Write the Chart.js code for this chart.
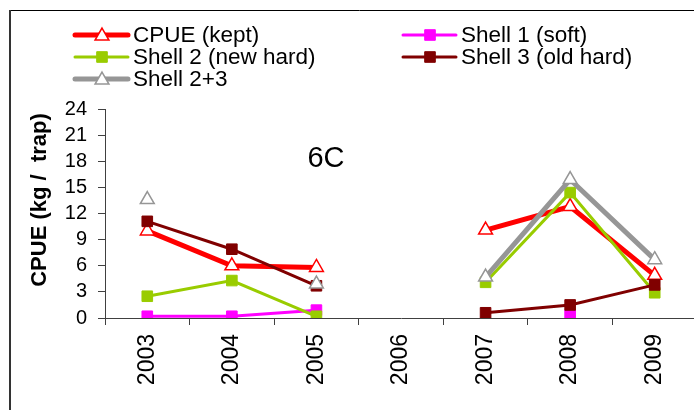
<!DOCTYPE html>
<html>
<head>
<meta charset="utf-8">
<script src="https://cdn.jsdelivr.net/npm/chart.js@4.4.1/dist/chart.umd.min.js"></script>
<style>
  html, body { margin: 0; padding: 0; background: #fff; overflow: hidden; }
  #wrap { width: 710px; height: 410px; }
</style>
</head>
<body>
<div id="wrap"><canvas id="c" width="710" height="410"></canvas></div>
<script>
const years = ['2003', '2004', '2005', '2006', '2007', '2008', '2009'];
const cpueKept   = [10.0, 6.0, 5.8, null, 10.1, 12.8, 4.9];
const shell1Soft = [0.2, 0.2, 0.9, null, null, 0.3, null];
const shell2New  = [2.5, 4.3, 0.2, null, 4.1, 14.4, 2.9];
const shell3Old  = [11.1, 7.9, 3.7, null, 0.6, 1.5, 3.8];
const shell23    = [13.6, null, 3.9, null, 4.7, 15.9, 6.7];
const yTicks = [0, 3, 6, 9, 12, 15, 18, 21, 24];
const yTitle = 'CPUE (kg /  trap)';
const panelLabel = '6C';

const FONT = "'Liberation Sans', Arial, sans-serif";

function drawMarker(ctx, style, x, y, r, fill, stroke, bw) {
  ctx.save();
  ctx.beginPath();
  if (style === 'triangle') {
    ctx.moveTo(x, y - r);
    ctx.lineTo(x + r * Math.sin(2 * Math.PI / 3), y + r / 2);
    ctx.lineTo(x - r * Math.sin(2 * Math.PI / 3), y + r / 2);
    ctx.closePath();
  } else {
    const s = Math.SQRT1_2 * r;
    ctx.rect(x - s, y - s, 2 * s, 2 * s);
  }
  ctx.fillStyle = fill;
  ctx.fill();
  ctx.lineWidth = bw;
  ctx.strokeStyle = stroke;
  ctx.stroke();
  ctx.restore();
}

const decor = {
  id: 'decor',
  beforeDraw(chart) {
    const ctx = chart.ctx;
    ctx.save();
    ctx.fillStyle = '#fff';
    ctx.fillRect(0, 0, chart.width, chart.height);
    ctx.strokeStyle = '#000';
    ctx.lineWidth = 1;
    ctx.beginPath();
    ctx.moveTo(9, 10.5); ctx.lineTo(chart.width, 10.5);
    ctx.stroke();
    ctx.strokeStyle = '#333';
    ctx.lineWidth = 2;
    ctx.beginPath();
    ctx.moveTo(10, 10); ctx.lineTo(10, chart.height);
    ctx.stroke();
    ctx.restore();
  },
  afterDraw(chart) {
    const ctx = chart.ctx;
    ctx.save();
    ctx.translate(40, 200);
    ctx.rotate(-Math.PI / 2);
    ctx.font = 'bold 22px ' + FONT;
    ctx.fillStyle = '#000';
    ctx.textAlign = 'center';
    ctx.textBaseline = 'middle';
    ctx.fillText(yTitle, 0, 0);
    ctx.restore();
    ctx.save();
    ctx.font = '29px ' + FONT;
    ctx.fillStyle = '#000';
    ctx.textAlign = 'center';
    ctx.textBaseline = 'middle';
    ctx.fillText(panelLabel, 326, 159);
    ctx.restore();
    const slots = [[75, 35], [403, 35], [75, 57], [403, 57], [75, 79]];
    chart.data.datasets.forEach((ds, i) => {
      const [lx, ly] = slots[i];
      ctx.save();
      ctx.strokeStyle = ds.borderColor;
      ctx.lineWidth = ds.borderWidth;
      ctx.lineCap = 'round';
      ctx.beginPath();
      ctx.moveTo(lx, ly); ctx.lineTo(lx + 53, ly);
      ctx.stroke();
      ctx.restore();
      drawMarker(ctx, ds.pointStyle, lx + 27, ly + (ds.pointStyle === 'triangle' ? 1 : 0),
        ds.pointStyle === 'triangle' ? 8 : 7.5,
        ds.pointBackgroundColor, ds.pointBorderColor, ds.pointBorderWidth);
      ctx.save();
      ctx.font = '22.5px ' + FONT;
      ctx.fillStyle = '#000';
      ctx.textAlign = 'left';
      ctx.textBaseline = 'middle';
      ctx.fillText(ds.label, lx + 58, ly + 1);
      ctx.restore();
    });
  }
};

function ds(label, data, color, width, style, fill, order) {
  return {
    label, data,
    borderColor: color,
    borderWidth: width,
    pointStyle: style,
    pointRadius: style === 'triangle' ? 8 : 7.5,
    pointHoverRadius: style === 'triangle' ? 8 : 7.5,
    pointBackgroundColor: fill,
    pointBorderColor: color,
    pointBorderWidth: style === 'triangle' ? 1.5 : 1,
    tension: 0,
    spanGaps: false,
    order
  };
}

new Chart(document.getElementById('c'), {
  type: 'line',
  data: {
    labels: years,
    datasets: [
      ds('CPUE (kept)', cpueKept, '#FF0000', 5, 'triangle', '#FFFFFF', 5),
      ds('Shell 1 (soft)', shell1Soft, '#FF00FF', 3, 'rect', '#FF00FF', 4),
      ds('Shell 2 (new hard)', shell2New, '#99CC00', 3, 'rect', '#99CC00', 3),
      ds('Shell 3 (old hard)', shell3Old, '#800000', 3, 'rect', '#800000', 2),
      ds('Shell 2+3', shell23, '#969696', 5, 'triangle', '#FFFFFF', 1)
    ]
  },
  options: {
    responsive: false,
    animation: false,
    devicePixelRatio: 1,
    layout: { padding: { left: 0, top: 109, right: 13, bottom: 0 } },
    plugins: { legend: { display: false }, tooltip: { enabled: false } },
    scales: {
      x: {
        type: 'category',
        offset: true,
        grid: { offset: true, drawOnChartArea: false, drawTicks: true, tickLength: 7, color: '#404040', lineWidth: 1 },
        border: { color: '#404040', width: 1 },
        ticks: {
          minRotation: 90, maxRotation: 90, autoSkip: false,
          padding: 9, color: '#000',
          font: { family: FONT, size: 23 }
        },
        afterFit(scale) { scale.height = 92; }
      },
      y: {
        min: 0, max: 24,
        afterBuildTicks(scale) { scale.ticks = yTicks.map(v => ({ value: v })); },
        grid: { drawOnChartArea: false, drawTicks: true, tickLength: 7, color: '#404040', lineWidth: 1 },
        border: { color: '#404040', width: 1 },
        ticks: { autoSkip: false, padding: 11, color: '#000', font: { family: FONT, size: 20 } },
        afterFit(scale) { scale.width = 105; }
      }
    }
  },
  plugins: [decor]
});
</script>
</body>
</html>
